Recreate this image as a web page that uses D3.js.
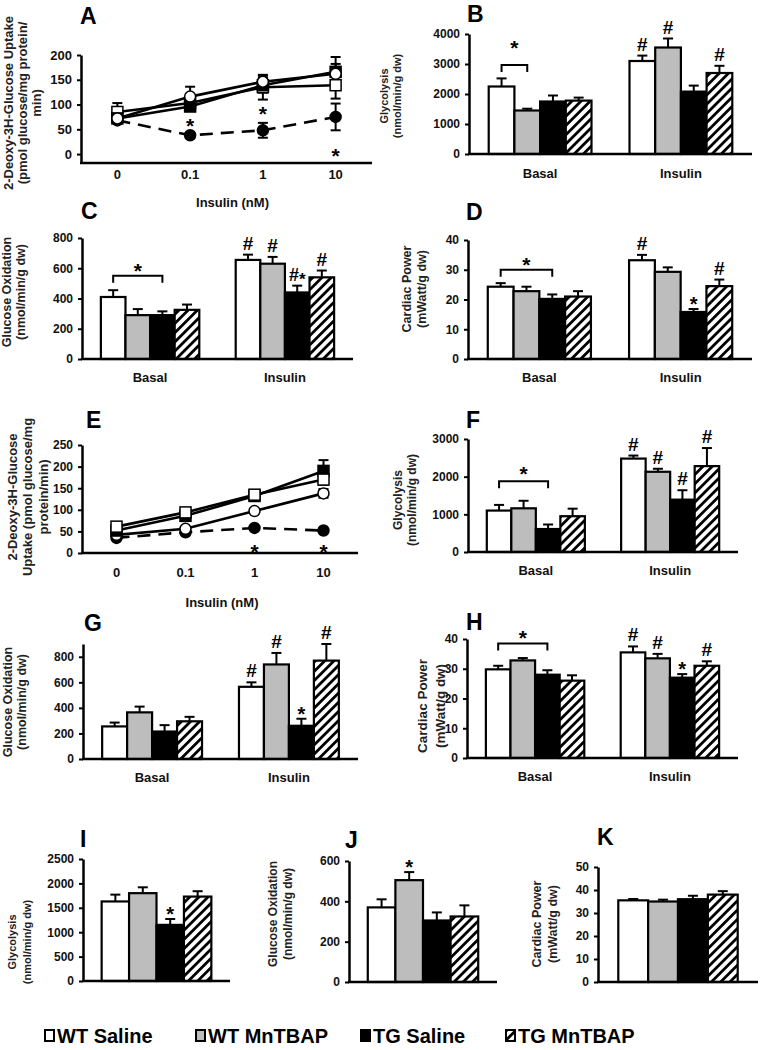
<!DOCTYPE html>
<html><head><meta charset="utf-8">
<script src="https://cdn.jsdelivr.net/npm/d3@7"></script>
<style>
body{margin:0;background:#fff}
svg text{font-family:"Liberation Sans",Arial,sans-serif;font-weight:bold;fill:#111}
</style>
</head><body>
<svg id="c" width="760" height="1050"></svg>
<script>
// ---------------- DATA ----------------
const groups = ["WT Saline", "WT MnTBAP", "TG Saline", "TG MnTBAP"];
const conditions = ["Basal", "Insulin"];
const doses = ["0", "0.1", "1", "10"];

// Panel A: 2-deoxyglucose uptake (line)
const uptakeA_wtSaline = [85, 103, 135, 139];
const uptakeA_wtSalineErr = [18, 10, 25, 27];
const uptakeA_wtMn = [72, 116, 146, 162];
const uptakeA_wtMnErr = [5, 20, 12, 20];
const uptakeA_tgMn = [72, 96, 139, 166];
const uptakeA_tgMnErr = [8, 8, 15, 30];
const uptakeA_tgSaline = [68, 38, 48, 75];
const uptakeA_tgSalineErr = [5, 5, 15, 27];
const uptakeA_ticks = [0, 50, 100, 150, 200];

// Panel B: glycolysis
const glyB_basal = [2250, 1450, 1750, 1780];
const glyB_basalErr = [270, 60, 200, 100];
const glyB_insulin = [3100, 3550, 2080, 2700];
const glyB_insulinErr = [180, 300, 200, 240];
const glyB_ticks = [0, 1000, 2000, 3000, 4000];

// Panel C: glucose oxidation
const oxC_basal = [410, 290, 290, 325];
const oxC_basalErr = [45, 40, 25, 35];
const oxC_insulin = [655, 630, 440, 540];
const oxC_insulinErr = [35, 45, 45, 45];
const oxC_ticks = [0, 200, 400, 600, 800];

// Panel D: cardiac power
const powD_basal = [24.3, 22.8, 20.2, 21.0];
const powD_basalErr = [1.2, 1.5, 1.5, 1.8];
const powD_insulin = [33.2, 29.3, 15.8, 24.5];
const powD_insulinErr = [1.8, 1.5, 1.0, 2.2];
const powD_ticks = [0, 10, 20, 30, 40];

// Panel E: 2-deoxyglucose uptake (line)
const uptakeE_wtSaline = [61, 94, 135, 170];
const uptakeE_wtSalineErr = [5, 8, 8, 12];
const uptakeE_wtMn = [42, 56, 97, 138];
const uptakeE_wtMnErr = [5, 5, 5, 10];
const uptakeE_tgMn = [52, 86, 132, 190];
const uptakeE_tgMnErr = [5, 6, 8, 25];
const uptakeE_tgSaline = [35, 48, 58, 52];
const uptakeE_tgSalineErr = [3, 4, 4, 4];
const uptakeE_ticks = [0, 50, 100, 150, 200, 250];

// Panel F: glycolysis
const glyF_basal = [1100, 1160, 610, 950];
const glyF_basalErr = [150, 200, 120, 200];
const glyF_insulin = [2480, 2130, 1390, 2280];
const glyF_insulinErr = [80, 80, 250, 480];
const glyF_ticks = [0, 1000, 2000, 3000];

// Panel G: glucose oxidation
const oxG_basal = [255, 365, 215, 295];
const oxG_basalErr = [30, 45, 50, 35];
const oxG_insulin = [565, 740, 260, 770];
const oxG_insulinErr = [35, 90, 55, 130];
const oxG_ticks = [0, 200, 400, 600, 800];

// Panel H: cardiac power
const powH_basal = [29.8, 32.8, 28.0, 26.0];
const powH_basalErr = [1.2, 0.8, 1.5, 1.8];
const powH_insulin = [35.5, 33.5, 27.0, 31.0];
const powH_insulinErr = [2.0, 1.5, 1.2, 1.5];
const powH_ticks = [0, 10, 20, 30, 40];

// Panels I, J, K
const glyI = [1630, 1800, 1150, 1730];
const glyIErr = [140, 120, 120, 110];
const glyI_ticks = [0, 500, 1000, 1500, 2000, 2500];
const oxJ = [370, 505, 305, 325];
const oxJErr = [40, 40, 40, 55];
const oxJ_ticks = [0, 200, 400, 600];
const powK = [35.5, 35.0, 36.0, 38.0];
const powKErr = [0.6, 0.8, 1.5, 1.5];
const powK_ticks = [0, 10, 20, 30, 40, 50];

// ---------------- DRAWING ----------------
const svg = d3.select("#c");
const defs = svg.append("defs");
const pat = defs.append("pattern").attr("id", "hatch")
  .attr("patternUnits", "userSpaceOnUse").attr("width", 6.5).attr("height", 6.5)
  .attr("patternTransform", "rotate(45)");
pat.append("rect").attr("width", 6.5).attr("height", 6.5).attr("fill", "#fff");
pat.append("rect").attr("width", 2.8).attr("height", 6.5).attr("fill", "#000");
const fills = ["#fff", "#bdbdbd", "#000", "url(#hatch)"];

function letter(t, x, y) {
  svg.append("text").attr("x", x).attr("y", y).attr("font-size", 23).style("fill", "#000").text(t);
}
function yTitle(lines, xs, cy, fs) {
  lines.forEach((l, i) => {
    svg.append("text").attr("transform", `translate(${xs[i]},${cy}) rotate(-90)`)
      .attr("text-anchor", "middle").attr("dominant-baseline", "central")
      .attr("font-size", fs).style("fill", "#222").text(l);
  });
}
function yAxis(g, y, ticks, x0, fs) {
  const ax = g.append("g").attr("transform", `translate(${x0},0)`)
    .call(d3.axisLeft(y).tickValues(ticks).tickSize(4).tickSizeOuter(0).tickPadding(5).tickFormat(d3.format("d")));
  ax.select(".domain").attr("stroke", "#000").attr("stroke-width", 2.5);
  ax.selectAll(".tick line").attr("stroke", "#000").attr("stroke-width", 2);
  ax.selectAll(".tick text").attr("font-size", fs).attr("font-family", null).style("fill", "#111");
}
function xLine(g, x0, x1, yv) {
  g.append("line").attr("x1", x0 - 1).attr("x2", x1).attr("y1", yv).attr("y2", yv)
    .attr("stroke", "#000").attr("stroke-width", 2.5);
}

function barPanel(p) {
  const g = svg.append("g");
  const y = d3.scaleLinear().domain([0, p.yMax]).range([p.y0, p.yTop]);
  const conds = p.values.length === 2 ? conditions : [""];
  const x = d3.scaleBand().domain(conds).range([p.x0, p.x1])
    .paddingInner(conds.length === 2 ? 0.27 : 0).paddingOuter(conds.length === 2 ? 0.14 : 0.17);
  const xi = d3.scaleBand().domain(groups).range([0, x.bandwidth()]);
  const rows = [];
  conds.forEach((c, ci) => groups.forEach((gr, gi) => rows.push({
    c, ci, gr, gi, v: p.values[ci][gi], e: p.errs[ci][gi],
    x: x(c) + xi(gr), w: xi.bandwidth()
  })));
  g.selectAll(".eb").data(rows).join("line")
    .attr("x1", d => d.x + d.w / 2).attr("x2", d => d.x + d.w / 2)
    .attr("y1", d => y(d.v)).attr("y2", d => y(d.v + d.e))
    .attr("stroke", "#000").attr("stroke-width", 2);
  g.selectAll(".cap").data(rows).join("line")
    .attr("x1", d => d.x + d.w / 2 - 5).attr("x2", d => d.x + d.w / 2 + 5)
    .attr("y1", d => y(d.v + d.e)).attr("y2", d => y(d.v + d.e))
    .attr("stroke", "#000").attr("stroke-width", 2);
  g.selectAll(".bar").data(rows).join("rect")
    .attr("x", d => d.x).attr("width", d => d.w)
    .attr("y", d => y(d.v)).attr("height", d => y(0) - y(d.v))
    .attr("fill", d => fills[d.gi]).attr("stroke", "#000").attr("stroke-width", 2.2);
  yAxis(g, y, p.ticks, p.x0, p.tickFs);
  xLine(g, p.x0, p.x1, y(0));
  if (conds.length === 2) {
    conds.forEach(c => g.append("text").attr("x", x(c) + x.bandwidth() / 2).attr("y", y(0) + p.catDy)
      .attr("text-anchor", "middle").attr("font-size", p.catFs).text(c));
  }
  (p.marks || []).forEach(m => {
    const r = rows.find(d => d.ci === m.c && d.gi === m.g);
    const top = y(r.v + r.e);
    const t = g.append("text").attr("x", r.x + r.w / 2).attr("text-anchor", "middle").style("fill", "#000");
    if (m.t === "#") t.attr("y", top - 5).attr("font-size", 19).text("#");
    else if (m.t === "*") t.attr("y", top + 2).attr("font-size", 20).text("*");
    else {
      t.attr("y", top - 5);
      t.append("tspan").attr("font-size", 18).text("#");
      t.append("tspan").attr("font-size", 17).attr("dy", 4).text("*");
    }
  });
  (p.brackets || []).forEach(b => {
    const r0 = rows.find(d => d.ci === b.c && d.gi === b.from);
    const r1 = rows.find(d => d.ci === b.c && d.gi === b.to);
    const xa = r0.x + r0.w / 2, xb = r1.x + r1.w / 2, yl = y(b.level);
    g.append("path").attr("d", `M${xa},${yl + 7}V${yl}H${xb}V${yl + 7}`)
      .attr("fill", "none").attr("stroke", "#000").attr("stroke-width", 2);
    g.append("text").attr("x", (xa + xb) / 2).attr("y", yl - b.dy + 10).attr("text-anchor", "middle")
      .attr("font-size", 21).style("fill", "#000").text("*");
  });
}

function linePanel(p) {
  const g = svg.append("g");
  const y = d3.scaleLinear().domain([p.yMin, p.yMax]).range([p.y0, p.yTop]);
  const x = d3.scalePoint().domain(doses).range([p.x0, p.x1]).padding(0.5);
  const line = d3.line().x((d, i) => x(doses[i])).y(d => y(d));
  p.series.forEach(s => {
    g.append("path").attr("d", line(s.v)).attr("fill", "none").attr("stroke", "#000")
      .attr("stroke-width", 2.6).attr("stroke-dasharray", s.dashed ? "13,8" : null);
  });
  p.series.forEach(s => {
    s.v.forEach((v, i) => {
      const cx = x(doses[i]);
      g.append("line").attr("x1", cx).attr("x2", cx).attr("y1", y(v - s.e[i])).attr("y2", y(v + s.e[i]))
        .attr("stroke", "#000").attr("stroke-width", 2);
      [v - s.e[i], v + s.e[i]].forEach(ev => g.append("line").attr("x1", cx - 5).attr("x2", cx + 5)
        .attr("y1", y(ev)).attr("y2", y(ev)).attr("stroke", "#000").attr("stroke-width", 2));
    });
  });
  p.series.forEach(s => {
    s.v.forEach((v, i) => {
      const cx = x(doses[i]), cy = y(v);
      const f = s.filled ? "#000" : "#fff";
      if (s.marker === "square") g.append("rect").attr("x", cx - 5.5).attr("y", cy - 5.5).attr("width", 11).attr("height", 11)
        .attr("fill", f).attr("stroke", "#000").attr("stroke-width", 1.5);
      else g.append("circle").attr("cx", cx).attr("cy", cy).attr("r", 5.5)
        .attr("fill", f).attr("stroke", "#000").attr("stroke-width", 1.5);
    });
  });
  yAxis(g, y, p.ticks, p.x0, p.tickFs);
  xLine(g, p.x0, p.x1, y(p.yMin));
  doses.forEach(d => g.append("text").attr("x", x(d)).attr("y", p.labY).attr("text-anchor", "middle")
    .attr("font-size", p.labFs).text(d));
  g.append("text").attr("x", (p.x0 + p.x1) / 2 + p.titleDx).attr("y", p.titleY).attr("text-anchor", "middle")
    .attr("font-size", p.labFs).text("Insulin (nM)");
  (p.stars || []).forEach(s => g.append("text").attr("x", x(doses[s.i])).attr("y", y(s.v) + 10)
    .attr("text-anchor", "middle").attr("font-size", 21).style("fill", "#000").text("*"));
}

// ---- Panel A ----
letter("A", 80, 24);
yTitle(["2-Deoxy-3H-Glucose Uptake", "(pmol glucose/mg protein/", "min)"], [8, 22, 36], 103, 13);
linePanel({
  x0: 81, x1: 372, y0: 163, yTop: 55, yMin: -18, yMax: 200, ticks: uptakeA_ticks, tickFs: 13,
  labY: 179, titleY: 207, titleDx: 6, labFs: 13,
  series: [
    { v: uptakeA_tgSaline, e: uptakeA_tgSalineErr, marker: "circle", filled: true, dashed: true },
    { v: uptakeA_wtSaline, e: uptakeA_wtSalineErr, marker: "square", filled: false },
    { v: uptakeA_tgMn, e: uptakeA_tgMnErr, marker: "square", filled: true },
    { v: uptakeA_wtMn, e: uptakeA_wtMnErr, marker: "circle", filled: false }
  ],
  stars: [{ i: 1, v: 62 }, { i: 2, v: 86 }, { i: 3, v: 3 }]
});

// ---- Panel B ----
letter("B", 467, 22);
yTitle(["Glycolysis", "(nmol/min/g dw)"], [384, 397], 96, 11);
barPanel({
  x0: 469, x1: 752, y0: 154, yTop: 34, yMax: 4000, ticks: glyB_ticks, tickFs: 12,
  values: [glyB_basal, glyB_insulin], errs: [glyB_basalErr, glyB_insulinErr],
  catDy: 24, catFs: 13,
  marks: [{ c: 1, g: 0, t: "#" }, { c: 1, g: 1, t: "#" }, { c: 1, g: 3, t: "#" }],
  brackets: [{ c: 0, from: 0, to: 1, level: 2970, dy: 20 }]
});

// ---- Panel C ----
letter("C", 81, 219);
yTitle(["Glucose Oxidation", "(nmol/min/g dw)"], [7, 21], 292, 12.5);
barPanel({
  x0: 82, x1: 353, y0: 359, yTop: 238, yMax: 800, ticks: oxC_ticks, tickFs: 12,
  values: [oxC_basal, oxC_insulin], errs: [oxC_basalErr, oxC_insulinErr],
  catDy: 23, catFs: 13,
  marks: [{ c: 1, g: 0, t: "#" }, { c: 1, g: 1, t: "#" }, { c: 1, g: 2, t: "#*" }, { c: 1, g: 3, t: "#" }],
  brackets: [{ c: 0, from: 0, to: 2, level: 550, dy: 8 }]
});

// ---- Panel D ----
letter("D", 466, 220);
yTitle(["Cardiac Power", "(mWatt/g dw)"], [407, 422], 289, 12.5);
barPanel({
  x0: 468, x1: 752, y0: 359, yTop: 240, yMax: 40, ticks: powD_ticks, tickFs: 12,
  values: [powD_basal, powD_insulin], errs: [powD_basalErr, powD_insulinErr],
  catDy: 23, catFs: 13,
  marks: [{ c: 1, g: 0, t: "#" }, { c: 1, g: 2, t: "*" }, { c: 1, g: 3, t: "#" }],
  brackets: [{ c: 0, from: 0, to: 2, level: 30, dy: 8 }]
});

// ---- Panel E ----
letter("E", 86, 428);
yTitle(["2-Deoxy-3H-Glucose", "Uptake (pmol glucose/mg", "protein/min)"], [12, 27, 43], 497, 13);
linePanel({
  x0: 82, x1: 358, y0: 553, yTop: 445, yMin: 0, yMax: 250, ticks: uptakeE_ticks, tickFs: 12,
  labY: 577, titleY: 607, titleDx: 2, labFs: 13,
  series: [
    { v: uptakeE_tgSaline, e: uptakeE_tgSalineErr, marker: "circle", filled: true, dashed: true },
    { v: uptakeE_wtMn, e: uptakeE_wtMnErr, marker: "circle", filled: false },
    { v: uptakeE_tgMn, e: uptakeE_tgMnErr, marker: "square", filled: true },
    { v: uptakeE_wtSaline, e: uptakeE_wtSalineErr, marker: "square", filled: false }
  ],
  stars: [{ i: 2, v: 9 }, { i: 3, v: 9 }]
});

// ---- Panel F ----
letter("F", 466, 428);
yTitle(["Glycolysis", "(nmol/min/g dw)"], [398, 412], 500, 12);
barPanel({
  x0: 468, x1: 738, y0: 552, yTop: 439, yMax: 3000, ticks: glyF_ticks, tickFs: 12,
  values: [glyF_basal, glyF_insulin], errs: [glyF_basalErr, glyF_insulinErr],
  catDy: 23, catFs: 13,
  marks: [{ c: 1, g: 0, t: "#" }, { c: 1, g: 1, t: "#" }, { c: 1, g: 2, t: "#" }, { c: 1, g: 3, t: "#" }],
  brackets: [{ c: 0, from: 0, to: 2, level: 1880, dy: 10 }]
});

// ---- Panel G ----
letter("G", 84, 631);
yTitle(["Glucose Oxidation", "(nmol/min/g dw)"], [8, 22], 702, 12.5);
barPanel({
  x0: 83, x1: 358, y0: 759, yTop: 644, yMax: 900, ticks: oxG_ticks, tickFs: 12,
  values: [oxG_basal, oxG_insulin], errs: [oxG_basalErr, oxG_insulinErr],
  catDy: 23, catFs: 13,
  marks: [{ c: 1, g: 0, t: "#" }, { c: 1, g: 1, t: "#" }, { c: 1, g: 2, t: "*" }, { c: 1, g: 3, t: "#" }]
});

// ---- Panel H ----
letter("H", 466, 630);
yTitle(["Cardiac Power", "(mWatt/g dw)"], [422, 440], 706, 13.5);
barPanel({
  x0: 467, x1: 738, y0: 758, yTop: 639, yMax: 40, ticks: powH_ticks, tickFs: 12,
  values: [powH_basal, powH_insulin], errs: [powH_basalErr, powH_insulinErr],
  catDy: 23, catFs: 13,
  marks: [{ c: 1, g: 0, t: "#" }, { c: 1, g: 1, t: "#" }, { c: 1, g: 2, t: "*" }, { c: 1, g: 3, t: "#" }],
  brackets: [{ c: 0, from: 0, to: 2, level: 38.5, dy: 8 }]
});

// ---- Panel I ----
letter("I", 80, 847);
yTitle(["Glycolysis", "(nmol/min/g dw)"], [12, 27], 942, 11);
barPanel({
  x0: 83, x1: 230, y0: 981, yTop: 859, yMax: 2500, ticks: glyI_ticks, tickFs: 12,
  values: [glyI], errs: [glyIErr],
  marks: [{ c: 0, g: 2, t: "*" }]
});

// ---- Panel J ----
letter("J", 345, 848);
yTitle(["Glucose Oxidation", "(nmol/min/g dw)"], [273, 288], 914, 12);
barPanel({
  x0: 349, x1: 497, y0: 982, yTop: 861, yMax: 600, ticks: oxJ_ticks, tickFs: 12,
  values: [oxJ], errs: [oxJErr],
  marks: [{ c: 0, g: 1, t: "*" }]
});

// ---- Panel K ----
letter("K", 597, 845);
yTitle(["Cardiac Power", "(mWatt/g dw)"], [537, 553], 924, 12.5);
barPanel({
  x0: 598, x1: 758, y0: 982, yTop: 867, yMax: 50, ticks: powK_ticks, tickFs: 12,
  values: [powK], errs: [powKErr]
});

// ---- Legend ----
const legX = [45, 196, 361, 506];
const lg = svg.append("g");
groups.forEach((gname, i) => {
  lg.append("rect").attr("x", legX[i]).attr("y", 1030).attr("width", 9).attr("height", 11)
    .attr("fill", fills[i]).attr("stroke", "#000").attr("stroke-width", 2);
  lg.append("text").attr("x", legX[i] + 12).attr("y", 1043).attr("font-size", 20)
    .style("fill", "#000").text(gname);
});
</script>
</body></html>
